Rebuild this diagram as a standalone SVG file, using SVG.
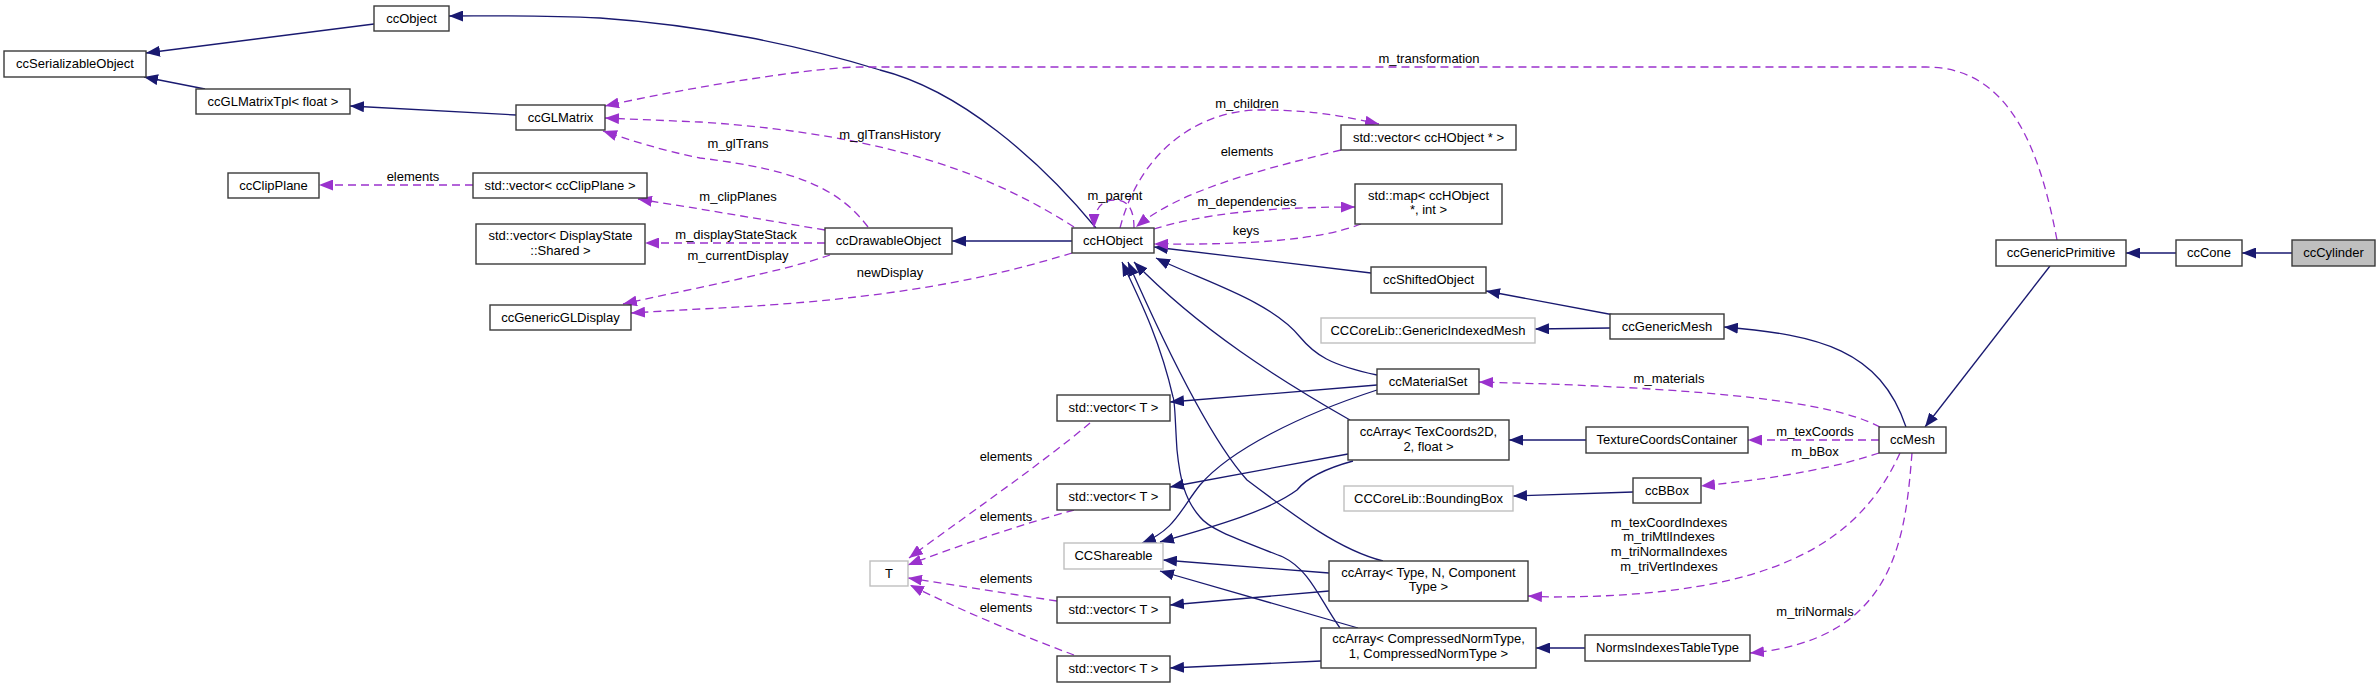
<svg xmlns="http://www.w3.org/2000/svg" width="2380" height="688" viewBox="0 0 2380 688">
<style>
.n rect{fill:#fff;stroke:#3a3a3a;stroke-width:1.4}
.g rect{fill:#fff;stroke:#bfbfbf;stroke-width:1.4}
.c rect{fill:#bfbfbf;stroke:#3a3a3a;stroke-width:1.4}
text{font-family:"Liberation Sans",Arial,sans-serif;font-size:13px;fill:#000;text-anchor:middle}
.i{fill:none;stroke:#191970;stroke-width:1.3;marker-end:url(#ai)}
.u{fill:none;stroke:#9a32cd;stroke-width:1.3;stroke-dasharray:8,5;marker-end:url(#au)}
</style>
<defs>
<marker id="ai" markerUnits="userSpaceOnUse" markerWidth="15" markerHeight="11" refX="14" refY="5.5" orient="auto"><path d="M0,0 L14,5.5 L0,11 z" fill="#191970"/></marker>
<marker id="au" markerUnits="userSpaceOnUse" markerWidth="15" markerHeight="11" refX="14" refY="5.5" orient="auto"><path d="M0,0 L14,5.5 L0,11 z" fill="#9a32cd"/></marker>
</defs>
<rect width="2380" height="688" fill="#fff"/>
<g id="edges">
<path class="i" d="M374,24 L146,53"/>
<path class="i" d="M205,89 L144,77"/>
<path class="i" d="M516,115 L350,106"/>
<path class="i" d="M1096,228 C1040,160 960,90 880,70 C800,45 700,25 600,18 C540,15 490,16 449,16"/>
<path class="i" d="M1072,241 L952,241"/>
<path class="i" d="M1371,273 L1154,247"/>
<path class="i" d="M1614,315 L1486,291"/>
<path class="i" d="M1610,328 L1535,329"/>
<path class="i" d="M1906,427 C1880,350 1820,335 1724,327"/>
<path class="i" d="M2050,266 L1925,427"/>
<path class="i" d="M2176,253 L2126,253"/>
<path class="i" d="M2292,253 L2242,253"/>
<path class="i" d="M1377,375 C1330,365 1315,355 1300,337 C1270,300 1200,280 1156,258"/>
<path class="i" d="M1350,420 C1280,380 1200,330 1134,262"/>
<path class="i" d="M1383,561 C1340,550 1300,520 1247,480 C1220,450 1180,380 1128,262"/>
<path class="i" d="M1340,628 C1320,600 1310,570 1283,557 C1240,540 1210,530 1200,517 C1185,500 1180,480 1177,450 C1175,420 1175,400 1173,397 C1160,340 1140,300 1122,262"/>
<path class="i" d="M1377,390 C1300,415 1230,450 1200,485 C1180,510 1175,530 1142,543"/>
<path class="i" d="M1353,461 C1320,470 1305,480 1297,490 C1270,510 1220,525 1160,542"/>
<path class="i" d="M1329,573 L1163,560"/>
<path class="i" d="M1358,628 L1160,571"/>
<path class="i" d="M1377,385 L1170,402"/>
<path class="i" d="M1348,454 L1170,487"/>
<path class="i" d="M1329,591 L1170,605"/>
<path class="i" d="M1321,661 L1170,668"/>
<path class="i" d="M1586,440 L1509,440"/>
<path class="i" d="M1633,492 L1513,496"/>
<path class="i" d="M1585,648 L1536,648"/>
<path class="u" d="M2057,240 C2040,150 2010,67 1926,67 L860,67 C820,67 700,85 605,106"/>
<path class="u" d="M1074,227 C1000,180 900,135 700,122 L605,118"/>
<path class="u" d="M868,227 C840,190 800,170 700,158 C660,150 630,140 603,131"/>
<path class="u" d="M473,185 L319,185"/>
<path class="u" d="M825,230 L700,209 L638,199"/>
<path class="u" d="M825,243 L645,243"/>
<path class="u" d="M830,255 C780,272 700,287 623,304"/>
<path class="u" d="M1072,253 C1000,275 900,300 700,309 L631,313"/>
<path class="u" d="M1120,228 C1140,150 1200,110 1260,110 C1320,110 1350,118 1379,124"/>
<path class="u" d="M1341,150 C1260,170 1180,190 1136,227"/>
<path class="u" d="M1154,229 C1200,215 1260,207 1355,207"/>
<path class="u" d="M1361,224 C1320,240 1250,245 1154,244"/>
<path class="u" d="M1134,228 C1134,205 1125,200 1115,200 C1102,200 1094,208 1094,228"/>
<path class="u" d="M1880,427 C1830,400 1700,390 1550,384 L1479,382"/>
<path class="u" d="M1879,440 L1748,440"/>
<path class="u" d="M1879,453 C1840,466 1790,477 1701,486"/>
<path class="u" d="M1900,453 C1860,540 1780,597 1550,597 L1528,596"/>
<path class="u" d="M1912,453 C1905,540 1895,640 1750,653"/>
<path class="u" d="M1090,423 C1040,465 960,520 909,558"/>
<path class="u" d="M1074,510 C1020,525 960,545 908,565"/>
<path class="u" d="M1057,601 L908,578"/>
<path class="u" d="M1074,655 C1020,635 960,610 910,585"/>
</g>
<g id="labels">
<text x="1429" y="63">m_transformation</text>
<text x="890" y="139">m_glTransHistory</text>
<text x="738" y="148">m_glTrans</text>
<text x="413" y="181">elements</text>
<text x="738" y="201">m_clipPlanes</text>
<text x="736" y="239">m_displayStateStack</text>
<text x="738" y="260">m_currentDisplay</text>
<text x="890" y="277">newDisplay</text>
<text x="1247" y="108">m_children</text>
<text x="1247" y="156">elements</text>
<text x="1115" y="200">m_parent</text>
<text x="1247" y="206">m_dependencies</text>
<text x="1246" y="235">keys</text>
<text x="1669" y="383">m_materials</text>
<text x="1815" y="436">m_texCoords</text>
<text x="1815" y="456">m_bBox</text>
<text x="1669" y="527">m_texCoordIndexes</text>
<text x="1669" y="541">m_triMtlIndexes</text>
<text x="1669" y="556">m_triNormalIndexes</text>
<text x="1669" y="571">m_triVertIndexes</text>
<text x="1815" y="616">m_triNormals</text>
<text x="1006" y="461">elements</text>
<text x="1006" y="521">elements</text>
<text x="1006" y="583">elements</text>
<text x="1006" y="612">elements</text>
</g>
<g id="ccObject" class="n"><rect x="374" y="6" width="75" height="25"/><text x="411.5" y="23">ccObject</text></g>
<g id="ccSerializableObject" class="n"><rect x="4" y="51" width="142" height="26"/><text x="75" y="68">ccSerializableObject</text></g>
<g id="ccGLMatrixTpl" class="n"><rect x="196" y="89" width="154" height="25"/><text x="273" y="106">ccGLMatrixTpl&lt; float &gt;</text></g>
<g id="ccGLMatrix" class="n"><rect x="516" y="105" width="89" height="25"/><text x="560.5" y="122">ccGLMatrix</text></g>
<g id="ccClipPlane" class="n"><rect x="228" y="173" width="91" height="25"/><text x="273.5" y="190">ccClipPlane</text></g>
<g id="vecClipPlane" class="n"><rect x="473" y="173" width="174" height="25"/><text x="560" y="190">std::vector&lt; ccClipPlane &gt;</text></g>
<g id="vecDisplayState" class="n"><rect x="476" y="224" width="169" height="40"/><text x="560.5" y="240">std::vector&lt; DisplayState</text><text x="560.5" y="255">::Shared &gt;</text></g>
<g id="ccGenericGLDisplay" class="n"><rect x="490" y="305" width="141" height="25"/><text x="560.5" y="322">ccGenericGLDisplay</text></g>
<g id="ccDrawableObject" class="n"><rect x="825" y="228" width="127" height="26"/><text x="888.5" y="245">ccDrawableObject</text></g>
<g id="ccHObject" class="n"><rect x="1072" y="228" width="82" height="25"/><text x="1113" y="245">ccHObject</text></g>
<g id="vecHObject" class="n"><rect x="1341" y="125" width="175" height="25"/><text x="1428.5" y="142">std::vector&lt; ccHObject * &gt;</text></g>
<g id="mapHObject" class="n"><rect x="1355" y="184" width="147" height="40"/><text x="1428.5" y="200">std::map&lt; ccHObject</text><text x="1428.5" y="214">*, int &gt;</text></g>
<g id="ccShiftedObject" class="n"><rect x="1371" y="267" width="115" height="26"/><text x="1428.5" y="284">ccShiftedObject</text></g>
<g id="GenericIndexedMesh" class="g"><rect x="1321" y="318" width="214" height="25"/><text x="1428" y="335">CCCoreLib::GenericIndexedMesh</text></g>
<g id="ccMaterialSet" class="n"><rect x="1377" y="369" width="102" height="25"/><text x="1428" y="386">ccMaterialSet</text></g>
<g id="vecT1" class="n"><rect x="1057" y="395" width="113" height="26"/><text x="1113.5" y="412">std::vector&lt; T &gt;</text></g>
<g id="ccArrayTexCoords" class="n"><rect x="1348" y="420" width="161" height="40"/><text x="1428.5" y="436">ccArray&lt; TexCoords2D,</text><text x="1428.5" y="451">2, float &gt;</text></g>
<g id="vecT2" class="n"><rect x="1057" y="484" width="113" height="26"/><text x="1113.5" y="501">std::vector&lt; T &gt;</text></g>
<g id="BoundingBox" class="g"><rect x="1344" y="486" width="169" height="25"/><text x="1428.5" y="503">CCCoreLib::BoundingBox</text></g>
<g id="CCShareable" class="g"><rect x="1064" y="543" width="99" height="26"/><text x="1113.5" y="560">CCShareable</text></g>
<g id="T" class="g"><rect x="870" y="561" width="38" height="25"/><text x="889" y="578">T</text></g>
<g id="ccArrayType" class="n"><rect x="1329" y="561" width="199" height="40"/><text x="1428.5" y="577">ccArray&lt; Type, N, Component</text><text x="1428.5" y="591">Type &gt;</text></g>
<g id="vecT3" class="n"><rect x="1057" y="597" width="113" height="26"/><text x="1113.5" y="614">std::vector&lt; T &gt;</text></g>
<g id="ccArrayNorm" class="n"><rect x="1321" y="628" width="215" height="40"/><text x="1428.5" y="643">ccArray&lt; CompressedNormType,</text><text x="1428.5" y="658">1, CompressedNormType &gt;</text></g>
<g id="vecT4" class="n"><rect x="1057" y="656" width="113" height="26"/><text x="1113.5" y="673">std::vector&lt; T &gt;</text></g>
<g id="ccGenericMesh" class="n"><rect x="1610" y="314" width="114" height="25"/><text x="1667" y="331">ccGenericMesh</text></g>
<g id="TextureCoordsContainer" class="n"><rect x="1586" y="427" width="162" height="26"/><text x="1667" y="444">TextureCoordsContainer</text></g>
<g id="ccMesh" class="n"><rect x="1879" y="427" width="67" height="26"/><text x="1912.5" y="444">ccMesh</text></g>
<g id="ccBBox" class="n"><rect x="1633" y="478" width="68" height="25"/><text x="1667" y="495">ccBBox</text></g>
<g id="NormsIndexesTableType" class="n"><rect x="1585" y="635" width="165" height="26"/><text x="1667.5" y="652">NormsIndexesTableType</text></g>
<g id="ccGenericPrimitive" class="n"><rect x="1996" y="240" width="130" height="26"/><text x="2061" y="257">ccGenericPrimitive</text></g>
<g id="ccCone" class="n"><rect x="2176" y="240" width="66" height="26"/><text x="2209" y="257">ccCone</text></g>
<g id="ccCylinder" class="c"><rect x="2292" y="240" width="83" height="26"/><text x="2333.5" y="257">ccCylinder</text></g>
</svg>
